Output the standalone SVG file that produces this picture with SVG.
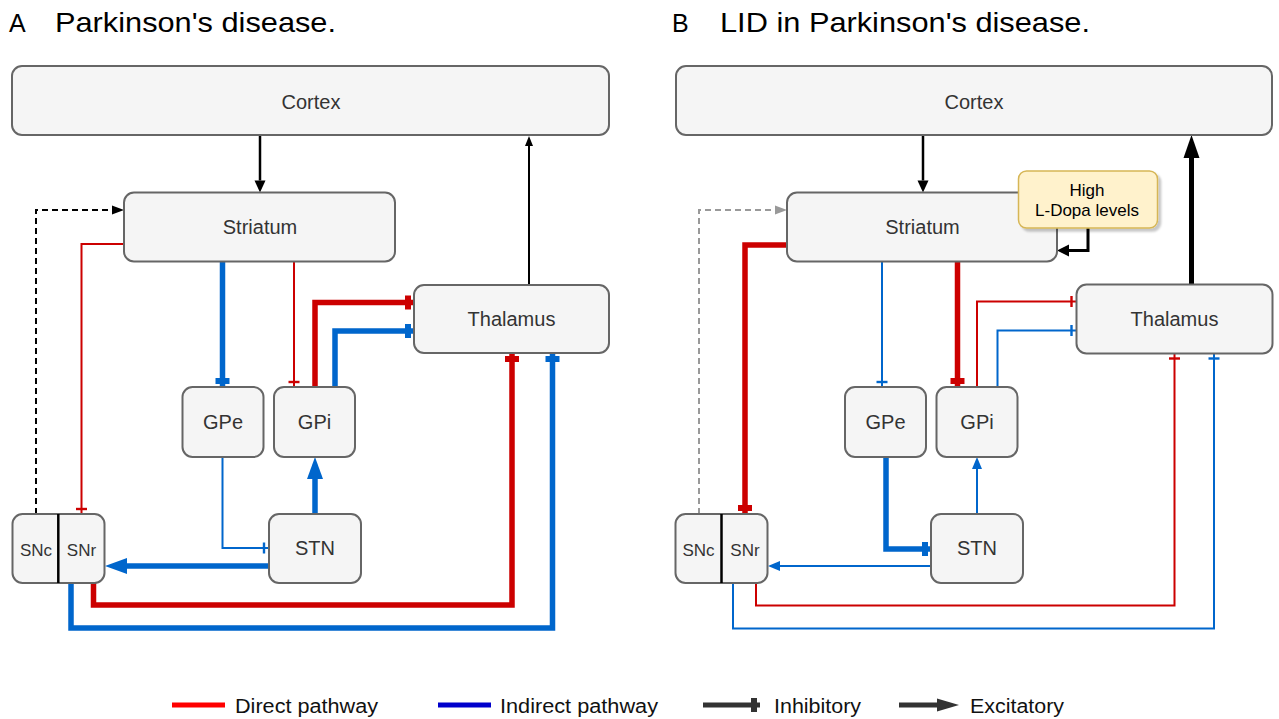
<svg xmlns="http://www.w3.org/2000/svg" width="1279" height="719" viewBox="0 0 1279 719">
<defs>
<style>
.box{fill:#f5f5f5;stroke:#666666;stroke-width:2}
.lbl{font-family:"Liberation Sans",Arial,Helvetica,sans-serif;font-size:20px;fill:#333333;text-anchor:middle}
.sm{font-size:17px}
.ttl{font-family:"Liberation Sans",Arial,Helvetica,sans-serif;fill:#000000}
.leg{font-family:"Liberation Sans",Arial,Helvetica,sans-serif;font-size:20px;fill:#111111}
.c{fill:none;stroke-linejoin:miter;stroke-linecap:butt}
.red{stroke:#cc0000}
.blue{stroke:#0066cc}
.blk{stroke:#000000}
.gray{stroke:#999999}
.thick{stroke-width:5.5}
.thin{stroke-width:2}
.dash{stroke-dasharray:6 4}
</style>
<marker id="arrBlk" markerUnits="userSpaceOnUse" orient="auto" refX="0" refY="0" markerWidth="1" markerHeight="1" overflow="visible"><path d="M0,-5.5 L12,0 L0,5.5 Z" fill="#000000"/></marker>
<marker id="arrBlkS" markerUnits="userSpaceOnUse" orient="auto" refX="0" refY="0" markerWidth="1" markerHeight="1" overflow="visible"><path d="M0,-4 L10,0 L0,4 Z" fill="#000000"/></marker>
<marker id="arrBlkL" markerUnits="userSpaceOnUse" orient="auto" refX="0" refY="0" markerWidth="1" markerHeight="1" overflow="visible"><path d="M0,-8 L23,0 L0,8 Z" fill="#000000"/></marker>
<marker id="arrDash" markerUnits="userSpaceOnUse" orient="auto" refX="0" refY="0" markerWidth="1" markerHeight="1" overflow="visible"><path d="M0,-4.5 L12,0 L0,4.5 Z" fill="#000000"/></marker>
<marker id="arrGray" markerUnits="userSpaceOnUse" orient="auto" refX="0" refY="0" markerWidth="1" markerHeight="1" overflow="visible"><path d="M0,-4.5 L12,0 L0,4.5 Z" fill="#999999"/></marker>
<marker id="arrBlueL" markerUnits="userSpaceOnUse" orient="auto" refX="0" refY="0" markerWidth="1" markerHeight="1" overflow="visible"><path d="M0,-8 L22,0 L0,8 Z" fill="#0066cc"/></marker>
<marker id="arrBlueS" markerUnits="userSpaceOnUse" orient="auto" refX="0" refY="0" markerWidth="1" markerHeight="1" overflow="visible"><path d="M0,-5 L12,0 L0,5 Z" fill="#0066cc"/></marker>
<marker id="arrLd" markerUnits="userSpaceOnUse" orient="auto" refX="0" refY="0" markerWidth="1" markerHeight="1" overflow="visible"><path d="M0,-6 L12,0 L0,6 Z" fill="#000000"/></marker>
<marker id="teeRedT" markerUnits="userSpaceOnUse" orient="auto" refX="0" refY="0" markerWidth="1" markerHeight="1" overflow="visible"><rect x="-9" y="-7" width="6" height="14" fill="#cc0000"/></marker>
<marker id="teeBlueT" markerUnits="userSpaceOnUse" orient="auto" refX="0" refY="0" markerWidth="1" markerHeight="1" overflow="visible"><rect x="-9" y="-7" width="6" height="14" fill="#0066cc"/></marker>
<marker id="teeRedS" markerUnits="userSpaceOnUse" orient="auto" refX="0" refY="0" markerWidth="1" markerHeight="1" overflow="visible"><rect x="-6.2" y="-5.5" width="2.4" height="11" fill="#cc0000"/></marker>
<marker id="teeBlueS" markerUnits="userSpaceOnUse" orient="auto" refX="0" refY="0" markerWidth="1" markerHeight="1" overflow="visible"><rect x="-6.2" y="-5.5" width="2.4" height="11" fill="#0066cc"/></marker>
<filter id="shadow" x="-10%" y="-10%" width="130%" height="140%"><feDropShadow dx="3" dy="3" stdDeviation="1.2" flood-color="#000000" flood-opacity="0.22"/></filter>
</defs>
<rect x="0" y="0" width="1279" height="719" fill="#ffffff"/>

<g id="titles">
<text class="ttl" x="9" y="32" font-size="25">A</text>
<text class="ttl" x="55" y="32" font-size="28" textLength="281" lengthAdjust="spacingAndGlyphs">Parkinson's disease.</text>
<text class="ttl" x="672" y="32" font-size="25">B</text>
<text class="ttl" x="720" y="32" font-size="28" textLength="370" lengthAdjust="spacingAndGlyphs">LID in Parkinson's disease.</text>
</g>

<g id="connectors">
<!-- Panel A -->
<path class="c blk" stroke-width="2.5" d="M260,135 V180.5" marker-end="url(#arrBlk)"/>
<path class="c blk" stroke-width="2" d="M529,285 V146" marker-end="url(#arrBlkS)"/>
<path class="c blk dash" stroke-width="2" d="M36,514 V210 H112" marker-end="url(#arrDash)"/>
<path class="c red thin" d="M124,244 H81.5 V514" marker-end="url(#teeRedS)"/>
<path class="c blue thick" d="M222.5,262 V387" marker-end="url(#teeBlueT)"/>
<path class="c red thin" d="M294,262 V387" marker-end="url(#teeRedS)"/>
<path class="c red thick" d="M315,387 V302.5 H414" marker-end="url(#teeRedT)"/>
<path class="c blue thick" d="M335,387 V331 H414" marker-end="url(#teeBlueT)"/>
<path class="c blue thin" d="M222.5,457 V548 H269" marker-end="url(#teeBlueS)"/>
<path class="c blue thick" d="M315,514 V479" marker-end="url(#arrBlueL)"/>
<path class="c blue thick" d="M269,566 H127" marker-end="url(#arrBlueL)"/>
<path class="c red thick" d="M93.5,583 V605 H512 V353" marker-end="url(#teeRedT)"/>
<path class="c blue thick" d="M71,583 V628 H552.5 V353" marker-end="url(#teeBlueT)"/>
<!-- Panel B -->
<path class="c blk" stroke-width="2.5" d="M923,135 V180.5" marker-end="url(#arrBlk)"/>
<path class="c blk" stroke-width="5" d="M1191.5,285 V158" marker-end="url(#arrBlkL)"/>
<path class="c gray dash" stroke-width="2" d="M699,514 V210 H775" marker-end="url(#arrGray)"/>
<path class="c red thick" d="M787,245 H745 V514" marker-end="url(#teeRedT)"/>
<path class="c blue thin" d="M882,262 V387" marker-end="url(#teeBlueS)"/>
<path class="c red thick" d="M957.5,262 V387" marker-end="url(#teeRedT)"/>
<path class="c red thin" d="M977,387 V301.5 H1076.5" marker-end="url(#teeRedS)"/>
<path class="c blue thin" d="M997.5,387 V330.5 H1076.5" marker-end="url(#teeBlueS)"/>
<path class="c blue thick" d="M886,457 V549 H931" marker-end="url(#teeBlueT)"/>
<path class="c blue thin" d="M977,514 V469" marker-end="url(#arrBlueS)"/>
<path class="c blue thin" d="M931,566 H780" marker-end="url(#arrBlueS)"/>
<path class="c red thin" d="M756,583 V605.5 H1174.5 V353.5" marker-end="url(#teeRedS)"/>
<path class="c blue thin" d="M733,583 V628.5 H1214 V353.5" marker-end="url(#teeBlueS)"/>
<path class="c blk" stroke-width="3" d="M1088,228 V250.5 H1069" marker-end="url(#arrLd)"/>
</g>

<g id="a-cortex"><rect class="box" x="12" y="66" width="597" height="69" rx="10"/><text class="lbl" x="311" y="108.5">Cortex</text></g>
<g id="a-striatum"><rect class="box" x="124" y="192.5" width="271" height="69" rx="10"/><text class="lbl" x="260" y="234">Striatum</text></g>
<g id="a-thalamus"><rect class="box" x="414" y="285" width="195" height="68" rx="10"/><text class="lbl" x="511.5" y="326">Thalamus</text></g>
<g id="a-gpe"><rect class="box" x="182.5" y="387" width="81" height="70" rx="10"/><text class="lbl" x="223" y="429">GPe</text></g>
<g id="a-gpi"><rect class="box" x="274" y="387" width="81" height="70" rx="10"/><text class="lbl" x="314.5" y="429">GPi</text></g>
<g id="a-stn"><rect class="box" x="269" y="514" width="92" height="69" rx="10"/><text class="lbl" x="315" y="555">STN</text></g>
<g id="a-snc-snr"><rect class="box" x="12.5" y="514" width="92" height="69" rx="10"/><line x1="58.3" y1="514" x2="58.3" y2="583" stroke="#000000" stroke-width="2.5"/><text class="lbl sm" x="36" y="556">SNc</text><text class="lbl sm" x="81.5" y="556">SNr</text></g>

<g id="b-cortex"><rect class="box" x="676" y="66" width="596" height="69" rx="10"/><text class="lbl" x="974" y="108.5">Cortex</text></g>
<g id="b-striatum"><rect class="box" x="787" y="192.5" width="270" height="69" rx="10"/><text class="lbl" x="922.5" y="234">Striatum</text></g>
<g id="b-thalamus"><rect class="box" x="1076.5" y="284.5" width="196" height="69" rx="10"/><text class="lbl" x="1174.5" y="326">Thalamus</text></g>
<g id="b-gpe"><rect class="box" x="845" y="387" width="81" height="70" rx="10"/><text class="lbl" x="885.5" y="429">GPe</text></g>
<g id="b-gpi"><rect class="box" x="936.5" y="387" width="81" height="70" rx="10"/><text class="lbl" x="977" y="429">GPi</text></g>
<g id="b-stn"><rect class="box" x="931" y="514" width="92" height="69" rx="10"/><text class="lbl" x="977" y="555">STN</text></g>
<g id="b-snc-snr"><rect class="box" x="675.5" y="514" width="92" height="69" rx="10"/><line x1="721.5" y1="514" x2="721.5" y2="583" stroke="#000000" stroke-width="2.5"/><text class="lbl sm" x="698.5" y="556">SNc</text><text class="lbl sm" x="745" y="556">SNr</text></g>
<g id="b-ldopa"><rect x="1018.5" y="171" width="139" height="57" rx="8" fill="#fff2cc" stroke="#d6b656" stroke-width="1.5" filter="url(#shadow)"/><text class="lbl sm" x="1087" y="196" fill="#000000" style="fill:#000000">High</text><text class="lbl sm" x="1087" y="216" style="fill:#000000">L-Dopa levels</text></g>

<g id="legend">
<line x1="172" y1="705" x2="225" y2="705" stroke="#ff0000" stroke-width="5"/>
<text class="leg" x="235" y="713" textLength="143" lengthAdjust="spacingAndGlyphs">Direct pathway</text>
<line x1="438" y1="705" x2="491" y2="705" stroke="#0000cc" stroke-width="5"/>
<text class="leg" x="500" y="713" textLength="158" lengthAdjust="spacingAndGlyphs">Indirect pathway</text>
<line x1="703" y1="705" x2="760" y2="705" stroke="#333333" stroke-width="5"/>
<rect x="751" y="698" width="6" height="14" fill="#333333"/>
<text class="leg" x="774" y="713" textLength="87" lengthAdjust="spacingAndGlyphs">Inhibitory</text>
<line x1="899" y1="705" x2="938" y2="705" stroke="#333333" stroke-width="5"/>
<path d="M937,698.5 L959,705 L937,711.5 Z" fill="#333333"/>
<text class="leg" x="970" y="713" textLength="94" lengthAdjust="spacingAndGlyphs">Excitatory</text>
</g>
</svg>
